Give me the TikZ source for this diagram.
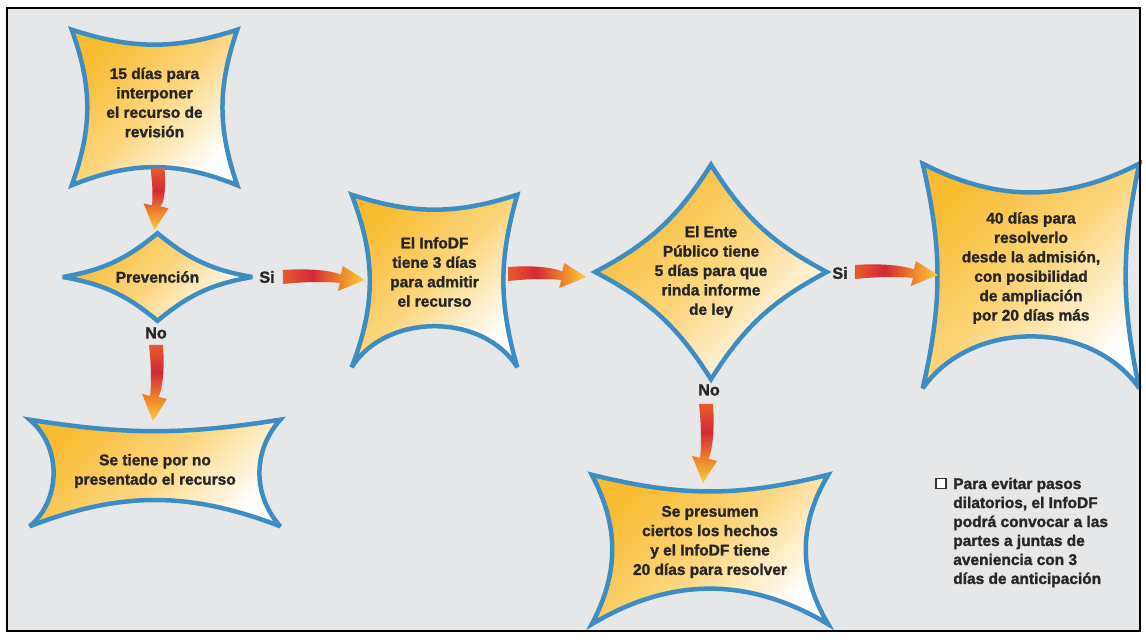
\documentclass[tikz,border=0pt]{standalone}
\usepackage{fontspec}
\setmainfont{Liberation Sans}[BoldFeatures={FakeBold=1.5}]
\usetikzlibrary{positioning,calc,backgrounds}
\definecolor{fondo}{HTML}{E6E7E9}
\definecolor{azul}{HTML}{3B8DC4}
\definecolor{amarillo}{HTML}{F9BB30}
\definecolor{crema}{HTML}{FCD67E}
\definecolor{flechaA}{HTML}{E65A2C}
\definecolor{flechaB}{HTML}{D32A35}
\definecolor{flechaC}{HTML}{EF832B}
\definecolor{flechaD}{HTML}{FAD03C}
\pgfdeclarehorizontalshading{flecha}{100bp}{color(0bp)=(flechaA); color(25bp)=(flechaA); color(43bp)=(flechaB); color(60bp)=(flechaC); color(75bp)=(flechaD); color(100bp)=(flechaD)}

\newcommand{\px}{0.025cm}
% forma de estrella alrededor de un nodo: [bajada], nodo, curva arriba, derecha, abajo, izquierda
\newcommand{\estrella}[6][0]{%
\begin{scope}[on background layer]
\draw[forma] ($(#2.north west)+(0,#1)$) to[bend right=#3] ($(#2.north east)+(0,#1)$) to[bend right=#4] ($(#2.south east)+(0,#1)$) to[bend right=#5] ($(#2.south west)+(0,#1)$) to[bend right=#6] cycle;
\end{scope}}
\newcommand{\rombo}[2]{%
\begin{scope}[on background layer]
\draw[forma] (#1.north) to[bend right=#2] (#1.east) to[bend right=#2] (#1.south) to[bend right=#2] (#1.west) to[bend right=#2] cycle;
\end{scope}}
% flecha gruesa: inicio, angulo, largo
\newcommand{\flechagorda}[3]{%
\begin{scope}[shift={#1},rotate=#2]
\shade[shading=flecha,shading angle=#2] (0,7) .. controls ({0.35*#3},9) and ({0.6*#3},6) .. ({#3-24},2.5) -- ({#3-22},11) -- (#3,-3) -- ({#3-27},-14) -- ({#3-25},-6) .. controls ({0.6*#3},-5) and ({0.35*#3},-4) .. (0,-7) -- cycle;
\end{scope}}

\begin{document}
\begin{tikzpicture}[x=0.025cm,y=0.025cm]

\tikzset{forma/.style={draw=azul,line width=3.2pt,line join=miter,miter limit=4,top color=amarillo,bottom color=white,middle color=crema,shading angle=45},
texto/.style={font=\bfseries\fontsize{11}{13.8}\selectfont,align=center,text=black!85,inner sep=0pt},
etiqueta/.style={font=\bfseries\fontsize{11.5}{13}\selectfont,text=black!85,inner sep=0pt},
nota/.style={font=\bfseries\fontsize{11}{13.5}\selectfont,align=left,text=black!85,inner sep=0pt},
casilla/.style={draw=black!80,fill=white,line width=1pt,minimum size=10*\px,inner sep=0pt}}

\useasboundingbox (0,0) rectangle (1146,639);
\begin{scope}[on background layer]
\fill[white] (0,0) rectangle (1146,639);
\fill[fondo] (7,8) rectangle (1140,631);
\end{scope}

%===================================================================
\node[texto,minimum width=165*\px,minimum height=155*\px] (plazo) at (154.5,536.5) {15 días para\\interponer\\el recurso de\\revisión};
\estrella[-5]{plazo}{18}{19}{22}{20}

\node[texto,minimum width=189*\px,minimum height=87*\px] (prevencion) at (157.5,362) {Prevención};
\rombo{prevencion}{15}
\node[etiqueta] (si1) at (267,362) {Si};
\node[etiqueta] (no1) at (156,306) {No};

\node[texto,minimum width=250*\px,minimum height=106*\px] (nopresentado) at (155,168) {Se tiene por no\\presentado el recurso};
\estrella[-2]{nopresentado}{9}{42}{21}{50}

%===================================================================
\node[texto,minimum width=165*\px,minimum height=172*\px] (infodf) at (434.5,367) {El InfoDF\\tiene 3 días\\para admitir\\el recurso};
\estrella[-9]{infodf}{18}{16}{58}{21}

\node[texto,minimum width=231*\px,minimum height=214*\px] (ente) at (711,367) {El Ente\\Público tiene\\5 días para que\\rinda informe\\de ley};
\rombo{ente}{15}
\node[etiqueta] (si2) at (840,366) {Si};
\node[etiqueta] (no2) at (709,249) {No};

\node[texto,minimum width=216*\px,minimum height=224*\px] (resolver) at (1031,371) {40 días para\\resolverlo\\desde la admisión,\\con posibilidad\\de ampliación\\por 20 días más};
\estrella[-8]{resolver}{27}{12}{55}{13}

\node[texto,minimum width=236*\px,minimum height=149*\px] (presumen) at (710,97) {Se presumen\\ciertos los hechos\\y el InfoDF tiene\\20 días para resolver};
\estrella[-7.5]{presumen}{14}{31}{31}{28}

%===================================================================
\flechagorda{($(plazo.south)+(3,12)$)}{-90}{62}
\flechagorda{($(no1.south)+(0,-6)$)}{-90}{76}
\flechagorda{($(si1.east)+(8,0)$)}{0}{82}
\flechagorda{($(infodf.east)+(-9,-2)$)}{0}{78}
\flechagorda{($(si2.east)+(7,1)$)}{0}{83}
\flechagorda{($(no2.south)+(-3,-8)$)}{-90}{79}

\node[nota,anchor=west] (nota) at (953,106.5) {Para evitar pasos\\dilatorios, el InfoDF\\podrá convocar a las\\partes a juntas de\\aveniencia con 3\\días de anticipación};
\node[casilla] (check) at ($(nota.north west)+(-12,-6)$) {};

\draw[line width=1.4pt] (7,8) rectangle (1140,631);
\end{tikzpicture}
\end{document}
